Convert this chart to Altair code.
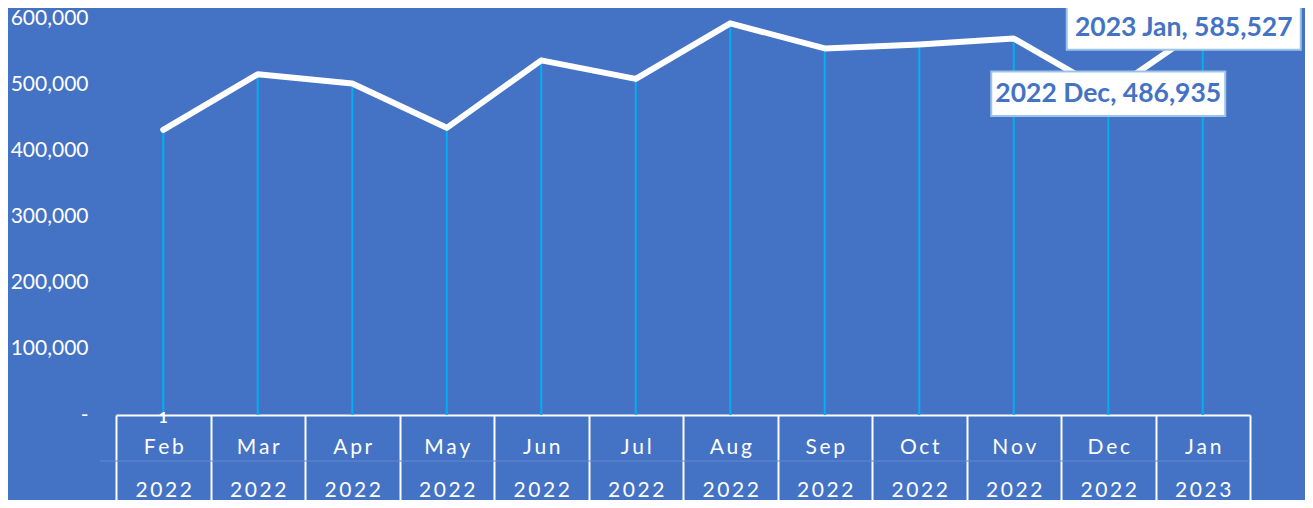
import altair as alt
import pandas as pd

months = ["Feb", "Mar", "Apr", "May", "Jun", "Jul", "Aug", "Sep", "Oct", "Nov", "Dec", "Jan"]
years = ["2022", "2022", "2022", "2022", "2022", "2022", "2022", "2022", "2022", "2022", "2022", "2023"]
values = [431000, 515000, 501000, 434000, 536000, 508000, 592000, 554000, 560000, 569000, 486935, 585527]
y_ticks = [0, 100000, 200000, 300000, 400000, 500000, 600000]
stray_label = "1"

BG = "#4472C4"
FONT = "Lato"

spaced = lambda s: "\u2009".join(list(s))
keys = [spaced(m) + "|" + spaced(y) for m, y in zip(months, years)]

df = pd.DataFrame({
    "key": keys,
    "month": months,
    "year": years,
    "value": values,
})
df["label"] = df["year"] + " " + df["month"] + ", " + df["value"].map(lambda v: f"{v:,}")

x_enc = alt.X(
    "key:N",
    sort=keys,
    bandPosition=0.5,
    scale=alt.Scale(type="band", paddingInner=0, paddingOuter=0),
    axis=alt.Axis(
        title=None,
        labelAngle=0,
        labelExpr="split(datum.label, '|')",
        domainColor="white",
        domainWidth=2,
        tickColor="white",
        tickWidth=2,
        tickSize=93,
        tickBand="extent",
        labelColor="white",
        labelFont=FONT,
        labelFontSize=21,
        labelLineHeight=43,
        labelPadding=-72,
        grid=False,
    ),
)
y_enc = alt.Y(
    "value:Q",
    scale=alt.Scale(domain=[0, 600000], nice=False, zero=True),
    axis=alt.Axis(
        title=None,
        values=y_ticks,
        labelExpr="datum.value == 0 ? '-' : format(datum.value, ',')",
        labelColor="white",
        labelFont=FONT,
        labelFontSize=21,
        labelPadding=28,
        domain=False,
        ticks=False,
        grid=False,
    ),
)

base = alt.Chart(df)

drops = base.mark_rule(color="#00B0F0", strokeWidth=2).encode(
    x=x_enc, y=y_enc, y2=alt.datum(0)
)
line = base.mark_line(color="white", strokeWidth=6, strokeJoin="round", strokeCap="round").encode(
    x=x_enc, y=y_enc
)

divider = base.transform_filter(alt.datum.month == months[0]).mark_rule(
    color="#6489CF", strokeWidth=1
).encode(x=alt.value(-16), x2=alt.value(1134), y=alt.value(443))

box_shape = "M-1,-0.19H1V0.19H-1Z"


def annotation(month, dx, dy):
    sub = base.transform_filter(alt.datum.month == month)
    box = sub.mark_point(
        shape=box_shape, size=234 * 234, filled=True, fill="white", stroke="#9DC3E6",
        strokeWidth=2, opacity=1, xOffset=dx, yOffset=dy,
    ).encode(x=x_enc, y=y_enc)
    txt = sub.mark_text(
        font=FONT, fontWeight="bold", fontSize=26.5, color=BG, dx=dx, dy=dy,
        align="center", baseline="middle",
    ).encode(x=x_enc, y=y_enc, text="label:N")
    return box + txt


ann_dec = annotation("Dec", 0, 1)
ann_jan = annotation("Jan", -19, 0)

stray = base.transform_filter(alt.datum.month == months[0]).mark_text(
    font=FONT, fontWeight="bold", fontSize=16, color="white", baseline="middle", dy=3
).encode(x=x_enc, y=alt.datum(0), text=alt.value(stray_label))

chart = alt.layer(divider, drops, line, stray, ann_dec, ann_jan).properties(
    width=1134,
    height=397,
    autosize=alt.AutoSizeParams(type="none"),
    padding={"left": 108, "top": 10, "right": 55, "bottom": 85},
    background=BG,
).configure_view(stroke=None)

chart.save("out.html", embed_options={"renderer": "svg", "actions": False})
